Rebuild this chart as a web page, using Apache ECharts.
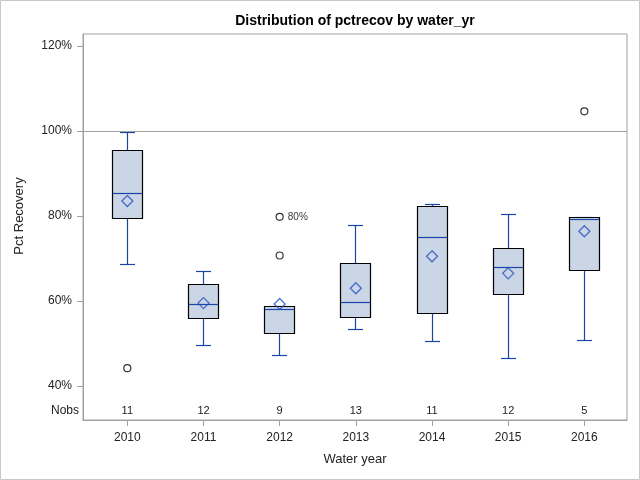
<!DOCTYPE html>
<html><head><meta charset="utf-8">
<script src="https://cdn.jsdelivr.net/npm/echarts@6/dist/echarts.min.js"></script>
<style>html,body{margin:0;padding:0;background:#fff}#c{width:640px;height:480px}</style>
</head><body><div id="c"></div>
<script>
const years = ['2010','2011','2012','2013','2014','2015','2016'];
const whiskerLow  = [68.6, 49.6, 47.4, 53.3, 50.6, 46.7, 50.8];
const q1          = [79.5, 55.9, 52.4, 56.2, 57.1, 61.6, 67.2];
const median      = [85.4, 59.3, 58.0, 59.7, 75.0, 67.9, 79.3];
const q3          = [95.5, 64.0, 58.7, 68.9, 82.3, 72.4, 79.7];
const whiskerHigh = [99.8, 67.0, 58.7, 77.8, 82.8, 80.4, 79.7];
const means       = [83.5, 59.5, 59.3, 63.0, 70.5, 66.5, 76.4];
const nobs        = [11, 12, 9, 13, 11, 12, 5];
const outliers    = [[0, 44.2], [2, 79.8], [2, 70.7], [6, 104.6]];
const outlierLabels = {1: '80%'};
const yTicks = [40, 60, 80, 100, 120];
const refLine = 100;

const Y_MIN = 32.0, Y_MAX = 122.8;
const FONT = 'Liberation Sans, Arial, sans-serif';
const BLUE = '#1846A8';
const FILL = '#CAD5E5';
const GRAY = '#A0A0A0';

const chart = echarts.init(document.getElementById('c'));
const boxData = years.map((y, i) => [i, whiskerLow[i], q1[i], median[i], q3[i], whiskerHigh[i]]);
const px = v => Math.round(v) + 0.5;

chart.setOption({
  animation: false,
  backgroundColor: '#fff',
  grid: {left: 83, right: 13, top: 34, bottom: 60, show: true, borderColor: GRAY, borderWidth: 1},
  xAxis: {
    type: 'value', min: -0.582, max: 6.56,
    name: 'Water year', nameLocation: 'middle', nameGap: 33,
    nameTextStyle: {fontFamily: FONT, fontSize: 13, color: '#222'},
    axisLine: {show: true, onZero: false, lineStyle: {color: GRAY}},
    axisTick: {show: true, inside: false, length: 6, lineStyle: {color: GRAY}, customValues: years.map((y, i) => i)},
    axisLabel: {customValues: years.map((y, i) => i), formatter: v => years[v], fontFamily: FONT, fontSize: 12, color: '#222', margin: 12},
    splitLine: {show: false}
  },
  yAxis: {
    type: 'value', min: Y_MIN, max: Y_MAX,
    axisLine: {show: true, onZero: false, lineStyle: {color: GRAY}},
    axisTick: {show: true, inside: false, length: 6, lineStyle: {color: GRAY}, customValues: yTicks},
    axisLabel: {customValues: yTicks, formatter: v => v + '%', fontFamily: FONT, fontSize: 12, color: '#222', margin: 11},
    splitLine: {show: false}
  },
  graphic: [
    {type: 'rect', shape: {x: 0.5, y: 0.5, width: 639, height: 479}, style: {fill: 'none', stroke: '#C8C8C8', lineWidth: 1}, silent: true},
    {type: 'text', x: 355, y: 21, style: {text: 'Distribution of pctrecov by water_yr', textAlign: 'center', textVerticalAlign: 'middle', font: 'bold 14px ' + FONT, fill: '#000'}},
    {type: 'text', x: 19, y: 216, rotation: Math.PI / 2, style: {text: 'Pct Recovery', textAlign: 'center', textVerticalAlign: 'middle', font: '13px ' + FONT, fill: '#222'}},
    {type: 'text', x: 79, y: 411, style: {text: 'Nobs', textAlign: 'right', textVerticalAlign: 'middle', font: '12px ' + FONT, fill: '#222'}}
  ],
  series: [
    {
      type: 'line', data: [], silent: true,
      markLine: {symbol: 'none', silent: true, label: {show: false},
        lineStyle: {color: GRAY, type: 'solid', width: 1},
        data: [{yAxis: refLine}]}
    },
    {
      type: 'custom', data: boxData, silent: true,
      renderItem: function (params, api) {
        const i = api.value(0);
        const w = api.size([1, 0])[0];
        const lo = api.coord([i, api.value(1)]);
        const b1 = api.coord([i, api.value(2)]);
        const md = api.coord([i, api.value(3)]);
        const b3 = api.coord([i, api.value(4)]);
        const hi = api.coord([i, api.value(5)]);
        const x = px(lo[0] - 0.5);
        const hb = w * 0.197, hc = w * 0.099;
        const ls = {stroke: BLUE, lineWidth: 1.2};
        const children = [
          {type: 'line', shape: {x1: x, y1: px(lo[1]), x2: x, y2: px(b1[1])}, style: ls},
          {type: 'line', shape: {x1: x, y1: px(b3[1]), x2: x, y2: px(hi[1])}, style: ls},
          {type: 'line', shape: {x1: Math.round(x - hc), y1: px(lo[1]), x2: Math.round(x + hc), y2: px(lo[1])}, style: ls},
          {type: 'line', shape: {x1: Math.round(x - hc), y1: px(hi[1]), x2: Math.round(x + hc), y2: px(hi[1])}, style: ls},
          {type: 'rect', shape: {x: px(x - hb), y: px(b3[1]), width: Math.round(2 * hb), height: Math.round(b1[1] - b3[1])},
            style: {fill: FILL, stroke: '#000', lineWidth: 1.2}},
          {type: 'line', shape: {x1: px(x - hb) + 0.5, y1: px(md[1]), x2: px(x - hb) + Math.round(2 * hb) - 0.5, y2: px(md[1])}, style: ls}
        ];
        return {type: 'group', children: children};
      }
    },
    {
      type: 'scatter', data: means.map((m, i) => [i, m]), silent: true,
      symbol: 'path://M5,0L10,5L5,10L0,5Z', symbolSize: [11, 11],
      itemStyle: {color: 'rgba(0,0,0,0)', borderColor: '#2450C0', borderWidth: 1.3}
    },
    {
      type: 'scatter', silent: true,
      data: outliers.map((o, k) => outlierLabels[k] ? {value: o, label: {show: true, formatter: outlierLabels[k]}} : {value: o}),
      symbol: 'circle', symbolSize: 7,
      itemStyle: {color: 'rgba(0,0,0,0)', borderColor: '#000', borderWidth: 1.2},
      label: {show: false, position: 'right', distance: 4, fontFamily: FONT, fontSize: 10, color: '#000'}
    },
    {
      type: 'custom', data: nobs.map((n, i) => [i, n]), silent: true,
      renderItem: function (params, api) {
        const p = api.coord([api.value(0), Y_MIN]);
        return {type: 'text', x: p[0], y: p[1] - 9,
          style: {text: String(api.value(1)), textAlign: 'center', textVerticalAlign: 'middle', font: '11px ' + FONT, fill: '#222'}};
      }
    }
  ]
});
</script>
</body></html>
